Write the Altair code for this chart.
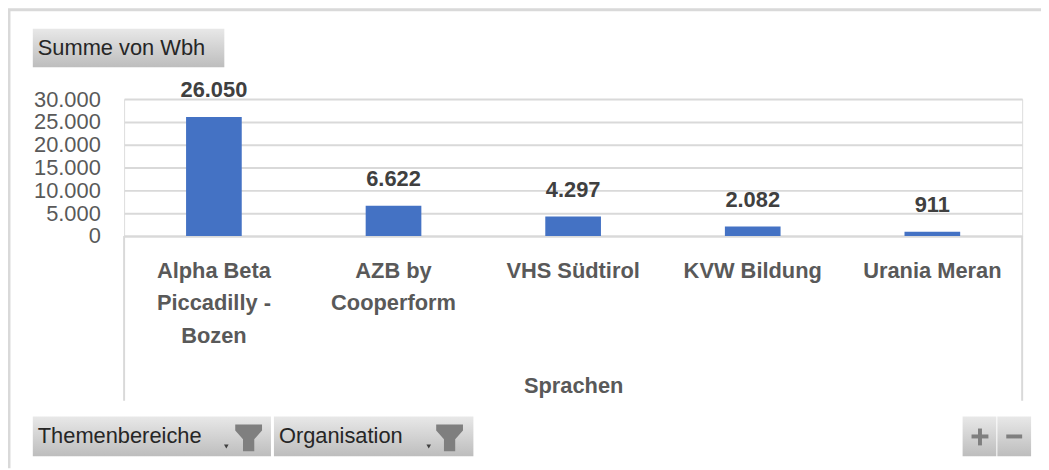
import altair as alt
import pandas as pd

# ---- data ----
categories = ["Alpha Beta\nPiccadilly -\nBozen", "AZB by\nCooperform",
              "VHS Südtirol", "KVW Bildung", "Urania Meran"]
values = [26050, 6622, 4297, 2082, 911]
y_ticks = [0, 5000, 10000, 15000, 20000, 25000, 30000]
value_title = "Summe von Wbh"
axis_title = "Sprachen"
filter_buttons = ["Themenbereiche", "Organisation"]

FONT = "Liberation Sans"
W, H = 905, 138          # plot area size
OX, OY = 125, 98         # page position of plot origin
PAD_L, PAD_T = OX - 8, OY - 8
TOTAL_W, TOTAL_H = 1041, 462

df = pd.DataFrame({"Organisation": categories, "Wbh": values})


def px(v):
    return alt.value(v - OX)


def py(v):
    return alt.value(v - OY)


one = alt.Data(values=[{"k": 1}])
grad = alt.LinearGradient(
    gradient="linear", x1=0, y1=0, x2=0, y2=1,
    stops=[alt.GradientStop(color="#e8e8e8", offset=0),
           alt.GradientStop(color="#bdbdbd", offset=1)])

x_enc = alt.X(
    "Organisation:N", sort=None,
    scale=alt.Scale(paddingInner=0.69, paddingOuter=0.345),
    axis=alt.Axis(
        title=axis_title, labelExpr="split(datum.label, '\\n')", labelAngle=0,
        labelFont=FONT, labelFontSize=22, labelFontWeight="bold",
        labelColor="#595959", labelLineHeight=32.5, labelPadding=25,
        labelLimit=400, labelOverlap=False, ticks=False,
        domainColor="#d9d9d9", domainWidth=2,
        titleFont=FONT, titleFontSize=22, titleFontWeight="bold",
        titleColor="#595959", titleY=151, titleBaseline="middle"))

y_enc = alt.Y(
    "Wbh:Q", scale=alt.Scale(domain=[0, 30000], nice=False),
    axis=alt.Axis(
        title=None, values=y_ticks, tickCount=7,
        labelExpr="replace(format(datum.value, ','), ',', '.')",
        labelFont=FONT, labelFontSize=22, labelColor="#595959",
        labelPadding=24, labelOverlap=False, labelBound=False,
        ticks=False, domain=False,
        gridColor="#d9d9d9", gridWidth=2))

base = alt.Chart(df)
bars = base.mark_bar(color="#4472c4").encode(x=x_enc, y=y_enc)
labels = base.transform_calculate(
    lbl="replace(format(datum.Wbh, ','), ',', '.')"
).mark_text(baseline="alphabetic", dy=-20, font=FONT, fontSize=22,
            fontWeight="bold", color="#404040").encode(
    x=x_enc, y=y_enc, text="lbl:N")

layers = [bars, labels]

# separators of the category axis
for xx in (0, W):
    layers.append(alt.Chart(one).mark_rule(color="#d9d9d9", strokeWidth=2).encode(
        x=alt.value(xx), y=alt.value(H), y2=py(402)))

# outer border (top & left)
layers.append(alt.Chart(one).mark_rule(color="#d9d9d9", strokeWidth=3).encode(
    x=px(8), x2=px(1049), y=py(8)))
layers.append(alt.Chart(one).mark_rule(color="#d9d9d9", strokeWidth=3).encode(
    x=px(9), y=py(8), y2=py(470)))


def button(x1, y1, x2, y2):
    return alt.Chart(one).mark_rect(fill=grad).encode(
        x=px(x1), x2=px(x2), y=py(y1), y2=py(y2))


def label(x, y, t):
    return alt.Chart(one).mark_text(align="left", baseline="middle", font=FONT,
                                    fontSize=22, color="#262626").encode(
        x=px(x), y=py(y), text=alt.value(t))


FUNNEL = ("M-1,-1 L1,-1 L1,-0.55 L0.42,0.1 L0.42,1 L-0.42,1 L-0.42,0.1 "
          "L-1,-0.55 Z")


def funnel(cx, cy):
    return alt.Chart(one).mark_point(shape=FUNNEL, filled=True, opacity=1,
                                     color="#7f7f7f", size=729).encode(
        x=px(cx), y=py(cy))


def dropdown(cx, cy):
    return alt.Chart(one).mark_point(shape="triangle-down", filled=True,
                                     opacity=1, color="#404040", size=22).encode(
        x=px(cx), y=py(cy))


def glyph(x1, y1, x2, y2):
    return alt.Chart(one).mark_rect(color="#7f7f7f").encode(
        x=px(x1), x2=px(x2), y=py(y1), y2=py(y2))


# value field button
layers += [button(33, 27, 226, 66), label(38, 47, value_title)]
# filter buttons
layers += [button(33, 418, 273, 458), label(38, 438, filter_buttons[0]),
           funnel(250.5, 439.5), dropdown(228, 448)]
layers += [button(276, 418, 477, 458), label(281, 438, filter_buttons[1]),
           funnel(453, 439.5), dropdown(432, 448)]
# +/- buttons
layers += [button(970, 418, 1004, 458), button(1005, 418, 1039, 458),
           glyph(979, 436, 996, 440), glyph(985.5, 430, 989.5, 447),
           glyph(1014, 436, 1030, 440)]

chart = alt.layer(*layers).properties(
    width=W, height=H,
    autosize=alt.AutoSizeParams(type="none"),
    padding={"left": PAD_L, "top": PAD_T,
             "right": TOTAL_W - PAD_L - W, "bottom": TOTAL_H - PAD_T - H},
).configure_view(stroke=None).configure(background="white")

chart.save("out.html", embed_options={"renderer": "svg", "actions": False})
